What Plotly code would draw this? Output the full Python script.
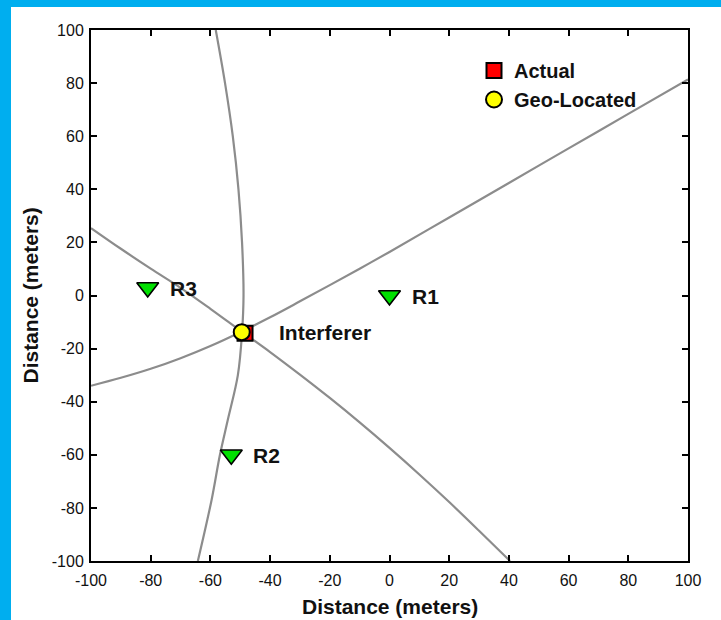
import plotly.graph_objects as go

# ---- data ----
ticks = [-100, -80, -60, -40, -20, 0, 20, 40, 60, 80, 100]
tick_labels = ["-100", "-80", "-60", "-40", "-20", "0", "20", "40", "60", "80", "100"]

curve_a_x = [-100, -90, -80, -70, -60, -50, -40, -30, -20, -10, 0, 20, 40, 60, 80, 100]
curve_a_y = [-34, -31.0, -27.6, -23.6, -19.0, -13.8, -8.2, -2.2, 3.9, 10.1, 16.4, 29.4, 42.4, 55.4, 68.4, 81.4]

curve_b_x = [-100, -90, -80, -70, -60, -50, -40, -30, -20, -10, 0, 10, 20, 30, 40.4]
curve_b_y = [25.4, 17.6, 10.1, 2.9, -5.0, -13.2, -21.3, -29.8, -38.6, -47.8, -57.4, -67.4, -77.8, -88.6, -100]

curve_c_x = [-58.2, -55.1, -52.5, -50.6, -49.4, -48.9, -49.4, -50.8, -54.2, -56.8, -59.6, -64.2]
curve_c_y = [100, 80, 60, 40, 20, 0, -14, -30, -47, -60, -77, -100]

receiver_names = ["R1", "R2", "R3"]
receiver_x = [0, -53, -81]
receiver_y = [0, -60, 3]

actual_x = [-48.4]
actual_y = [-14.2]
geo_x = [-49.5]
geo_y = [-13.8]
interferer_label = "Interferer"

# ---- layout constants (pixels) ----
W, H = 721, 620
L, R, T, B = 91, 688, 30, 561
pw, ph = R - L, B - T

def px(xp):
    return (xp - L) / pw

def py(yp):
    return (B - yp) / ph

FONT = "Liberation Sans, Arial, sans-serif"
GRAY = "#8c8c8c"
BLUE = "#00AEEF"

fig = go.Figure()

for cx, cy in [(curve_a_x, curve_a_y), (curve_b_x, curve_b_y), (curve_c_x, curve_c_y)]:
    fig.add_trace(go.Scatter(x=cx, y=cy, mode="lines",
                             line=dict(color=GRAY, width=2.2, shape="spline", smoothing=1.0),
                             showlegend=False, hoverinfo="skip"))

fig.add_trace(go.Scatter(x=receiver_x, y=receiver_y, mode="markers",
                         marker=dict(symbol="triangle-down", size=19, color="#00E000",
                                     line=dict(color="black", width=1.6)),
                         showlegend=False))

fig.add_trace(go.Scatter(x=actual_x, y=actual_y, mode="markers", name="Actual",
                         marker=dict(symbol="square", size=15, color="#FF0000",
                                     line=dict(color="black", width=2))))
fig.add_trace(go.Scatter(x=geo_x, y=geo_y, mode="markers", name="Geo-Located",
                         marker=dict(symbol="circle", size=16, color="#FFFF00",
                                     line=dict(color="black", width=2))))

annotations = []
for n, x, y in zip(receiver_names, receiver_x, receiver_y):
    annotations.append(dict(x=x, y=y, xref="x", yref="y", text=n, showarrow=False,
                            xanchor="left", yanchor="middle", xshift=20, yshift=-1,
                            font=dict(family=FONT, size=21, color="#111111", weight="bold")))
annotations.append(dict(x=geo_x[0], y=geo_y[0], xref="x", yref="y", text=interferer_label,
                        showarrow=False, xanchor="left", yanchor="middle", xshift=35, yshift=0,
                        font=dict(family=FONT, size=21, color="#111111", weight="bold")))
# axis titles
annotations.append(dict(x=0.5, y=py(606), xref="paper", yref="paper", text="<b>Distance (meters)</b>",
                        showarrow=False, xanchor="center", yanchor="middle",
                        font=dict(family=FONT, size=21, color="#111111")))
annotations.append(dict(x=px(30), y=0.5, xref="paper", yref="paper", text="<b>Distance (meters)</b>",
                        showarrow=False, xanchor="center", yanchor="middle", textangle=-90,
                        font=dict(family=FONT, size=21, color="#111111")))

shapes = [
    dict(type="rect", xref="paper", yref="paper", x0=px(-5), x1=px(W + 5), y0=py(7), y1=py(-5),
         fillcolor=BLUE, line=dict(width=0), layer="above"),
    dict(type="rect", xref="paper", yref="paper", x0=px(-5), x1=px(11), y0=py(H + 5), y1=py(-5),
         fillcolor=BLUE, line=dict(width=0), layer="above"),
]

axis_common = dict(range=[-100, 100], tickvals=ticks, ticktext=tick_labels, ticks="inside",
                   ticklen=6, tickwidth=1.5, tickcolor="black", showline=True, linecolor="black",
                   linewidth=2, mirror="allticks", showgrid=False, zeroline=False,
                   tickfont=dict(family=FONT, size=16, color="#111111"))

fig.update_layout(
    width=W, height=H,
    margin=dict(l=L, r=W - R, t=T, b=H - B, autoexpand=False),
    paper_bgcolor="white", plot_bgcolor="white",
    xaxis=dict(**axis_common, ticklabelstandoff=4),
    yaxis=dict(**axis_common, ticklabelstandoff=2),
    legend=dict(x=px(474), y=py(51), xanchor="left", yanchor="top", bgcolor="rgba(0,0,0,0)",
                font=dict(family=FONT, size=20, color="#111111", weight="bold"),
                itemwidth=30, tracegroupgap=0),
    annotations=annotations, shapes=shapes,
    showlegend=True,
)

fig.write_html("out.html")
